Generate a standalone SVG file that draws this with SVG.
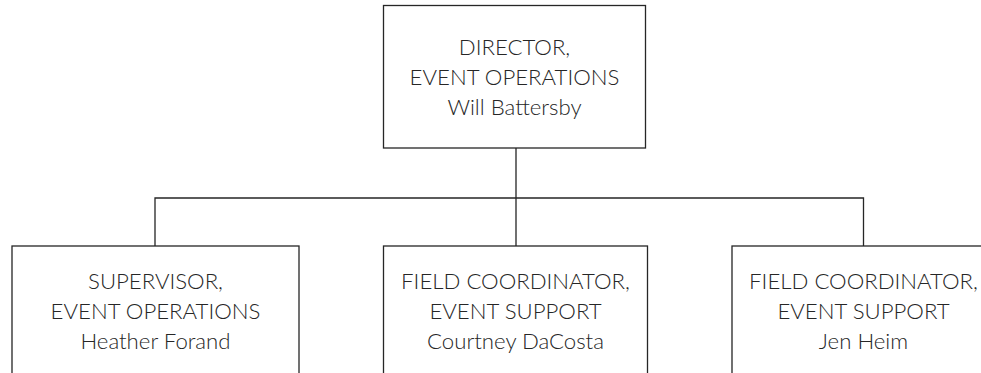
<svg xmlns="http://www.w3.org/2000/svg" width="981" height="373" viewBox="0 0 981 373">
<style>
.box{fill:#ffffff;stroke:#262626;stroke-width:1.3}
.conn{fill:none;stroke:#262626;stroke-width:1.3}
text{font-family:Lato,"Open Sans","Liberation Sans",sans-serif;font-weight:300;font-size:22.2px;fill:#262626;text-anchor:middle}
</style>
<rect width="981" height="373" fill="#ffffff"/>
<g id="connectors">
<path class="conn" d="M516,148 V198 M155,246 V198 H863.5 V246 M516,198 V246"/>
</g>
<g id="director">
<rect class="box" x="383.5" y="5.5" width="262" height="142.5"/>
<text x="514.5" y="55">DIRECTOR,</text>
<text x="514.5" y="85">EVENT OPERATIONS</text>
<text x="514.5" y="115">Will Battersby</text>
</g>
<g id="supervisor">
<rect class="box" x="12" y="246" width="287" height="140"/>
<text x="155.5" y="289">SUPERVISOR,</text>
<text x="155.5" y="319">EVENT OPERATIONS</text>
<text x="155.5" y="349">Heather Forand</text>
</g>
<g id="coordinator1">
<rect class="box" x="383.5" y="246" width="264" height="140"/>
<text x="515.5" y="289">FIELD COORDINATOR,</text>
<text x="515.5" y="319">EVENT SUPPORT</text>
<text x="515.5" y="349">Courtney DaCosta</text>
</g>
<g id="coordinator2">
<rect class="box" x="732" y="246" width="264" height="140"/>
<text x="863.5" y="289">FIELD COORDINATOR,</text>
<text x="863.5" y="319">EVENT SUPPORT</text>
<text x="863.5" y="349">Jen Heim</text>
</g>
</svg>
